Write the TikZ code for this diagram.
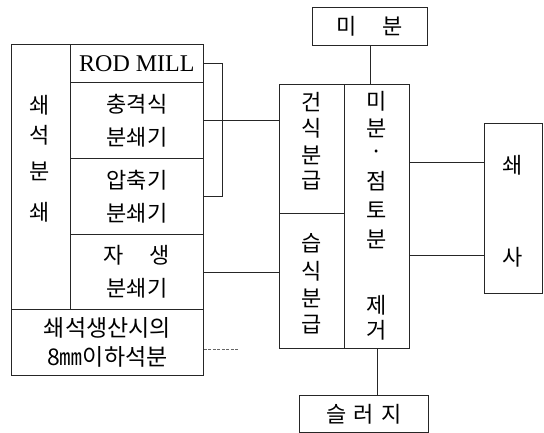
\documentclass[tikz,border=0pt]{standalone}
\usepackage{fontspec}
\setmainfont{Liberation Serif}
\newfontfamily\kr{Noto Sans CJK KR}
\begin{document}
\begin{tikzpicture}[x=1pt,y=-1pt,
  box/.style={draw=black!85, line width=0.8pt, inner sep=0pt, anchor=north west},
  conn/.style={draw=black!85, line width=0.8pt},
  faint/.style={draw=black!60, line width=0.7pt, dash pattern=on 3pt off 1.5pt},
  kt/.style={font=\kr\fontsize{22}{24}\selectfont, inner sep=0pt},
  kt2/.style={font=\kr\fontsize{22}{33}\selectfont, align=center},
  kt3/.style={font=\kr\fontsize{23}{29}\selectfont, align=center}]
\useasboundingbox (0,0) rectangle (544,433);
% left block
\node[box, minimum width=59pt, minimum height=265pt] (crush) at (11,44) {};
\node[box, minimum width=133pt, minimum height=38pt, font=\fontsize{24}{26}\selectfont] (rod) at (70,44) {ROD MILL};
\node[box, minimum width=133pt, minimum height=76pt, kt2] (impact) at (70,82) {충격식\\분쇄기};
\node[box, minimum width=133pt, minimum height=76pt, kt2] (compress) at (70,158) {압축기\\분쇄기};
\node[box, minimum width=133pt, minimum height=75pt, kt2] (auto) at (70,234) {자\hspace{26pt}생\\분쇄기};
\node[box, minimum width=192pt, minimum height=66pt, kt3] (fines) at (11,309) {쇄석생산시의\\8㎜이하석분};
\foreach \c/\y/\n in {쇄/105/a,석/135/b,분/171/c,쇄/212/d}
  \node[kt] (l\n) at (40,\y) {\c};
% middle block
\node[box, minimum width=65pt, minimum height=129pt] (dry) at (279,84) {};
\node[box, minimum width=65pt, minimum height=135pt] (wet) at (279,213) {};
\node[box, minimum width=65pt, minimum height=264pt] (remove) at (344,84) {};
\foreach \c/\y/\n in {건/102/a,식/128/b,분/155/c,급/181/d}
  \node[kt] (d\n) at (312,\y) {\c};
\foreach \c/\y/\n in {습/243/a,식/271/b,분/298/c,급/325/d}
  \node[kt] (w\n) at (312,\y) {\c};
\foreach \c/\y/\n in {미/101/a,분/128/b,·/155/c,점/181/d,토/210/e,분/239/f,제/305/g,거/330/h}
  \node[kt] (r\n) at (377,\y) {\c};
% top and bottom
\node[box, minimum width=115pt, minimum height=38pt, kt] (mibun) at (312,7) {미\hspace{26pt}분};
\node[box, minimum width=129pt, minimum height=37pt, kt] (sludge) at (299,395) {슬\hspace{7pt}러\hspace{7pt}지};
% right
\node[box, minimum width=58pt, minimum height=170pt] (sand) at (484,123) {};
\node[kt] (sa) at (513,165) {쇄};
\node[kt] (sb) at (513,257) {사};
% connectors
\draw[conn] (rod.east) -- ++(19,0) |- (compress.east);
\draw[conn] (impact.east) -- (impact.east -| dry.west);
\draw[conn] (auto.east) -- (auto.east -| wet.west);
\coordinate (fend) at (238,349);
\draw[faint] (fines.east |- fend) -- (fend);
\draw[conn] (mibun.south) -- (mibun.south |- remove.north);
\draw[conn] (remove.south) -- (remove.south |- sludge.north);
\draw[conn] (remove.east |- 0,162) -- (sand.west |- 0,162);
\draw[conn] (remove.east |- 0,255) -- (sand.west |- 0,255);
\end{tikzpicture}
\end{document}
